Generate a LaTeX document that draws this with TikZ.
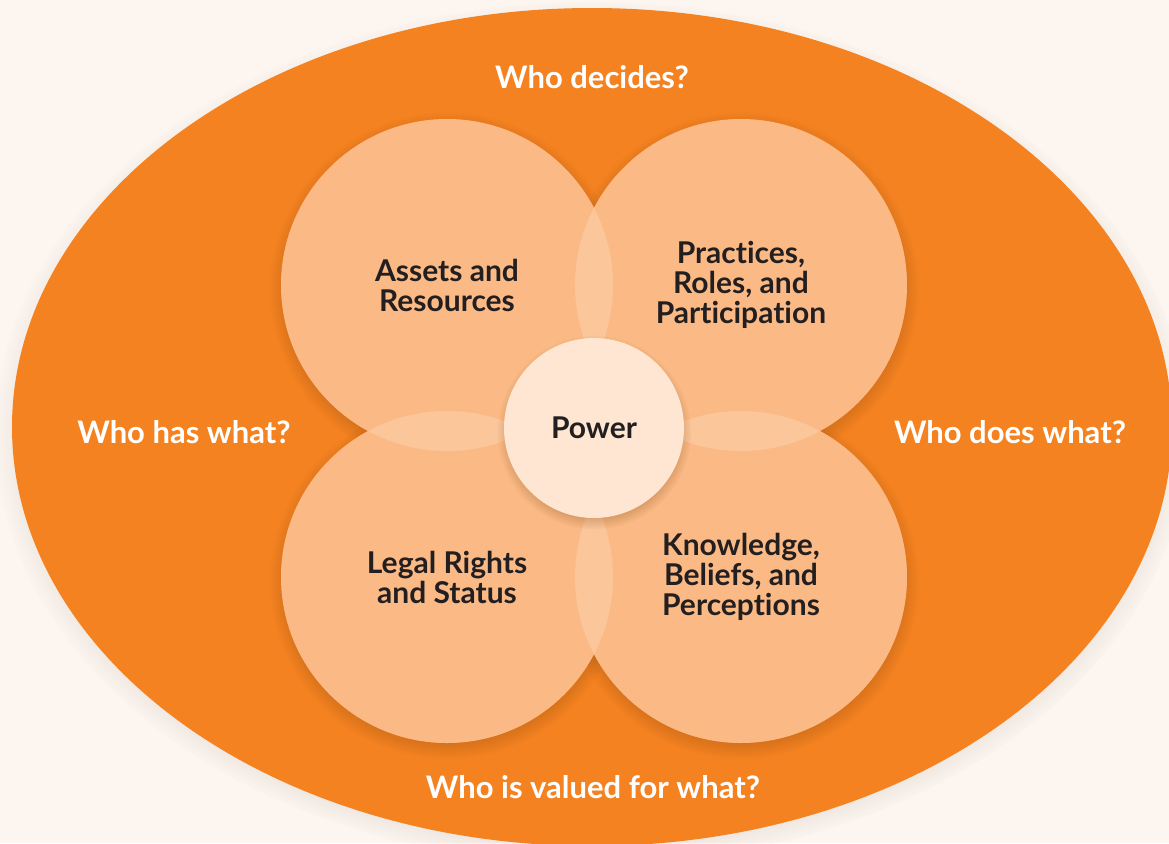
\documentclass[tikz,border=0pt]{standalone}
\usepackage{fontspec}
\setmainfont{Lato}[Ligatures=NoCommon]
\usepackage{tikz}
\usetikzlibrary{shapes.geometric,shadows,fadings}
\definecolor{paper}{HTML}{FDF6F0}
\definecolor{rim}{HTML}{F58220}
\definecolor{petalfill}{HTML}{FBBA85}
\definecolor{lensfill}{HTML}{FAC69A}
\definecolor{corefill}{HTML}{FEE6D2}
\definecolor{ink}{HTML}{231F20}

\begin{document}
\begin{tikzpicture}[x=0.5pt,y=-0.5pt,
  question/.style={text=white,font=\fontsize{15.5}{18}\selectfont\bfseries},
  petal/.style={circle,minimum size=166pt,inner sep=0pt,fill=petalfill,text=ink,align=center,
    font=\fontsize{15}{15}\selectfont\bfseries},
  petalshade/.style={fill=rim,circular drop shadow={shadow scale=1.07,shadow xshift=0pt,shadow yshift=-2pt,opacity=0.35,fill=black!55!rim}}]
\useasboundingbox[fill=paper] (0,0) rectangle (1169,843);
\node[ellipse,minimum width=580pt,minimum height=419pt,inner sep=0pt,fill=rim,
  circular drop shadow={shadow scale=1.03,shadow xshift=0pt,shadow yshift=-3pt,opacity=0.22,fill=black!70!brown}] (frame) at (592,427) {};
\foreach \p in {(447,285),(741,285),(447,577),(741,577)}
  \fill[petalshade] \p circle[radius=83pt];
\node[petal] (assets) at (447,285) {Assets and\\Resources};
\node[petal] (practices) at (741,285) {Practices,\\Roles, and\\Participation};
\node[petal] (legal) at (447,577) {Legal Rights\\and Status};
\node[petal] (knowledge) at (741,577) {Knowledge,\\Beliefs, and\\Perceptions};
\foreach \a/\b in {assets/practices,assets/legal,practices/knowledge,legal/knowledge}{
  \begin{scope}
    \clip (\a.center) circle[radius=83pt];
    \fill[lensfill] (\b.center) circle[radius=83pt];
  \end{scope}}
\node[circle,minimum size=90pt,inner sep=0pt,fill=corefill,text=ink,font=\fontsize{15}{15}\selectfont\bfseries,
  circular drop shadow={shadow scale=1.08,shadow xshift=0pt,shadow yshift=-2pt,opacity=0.3,fill=black!50!rim}] (power) at (594,428) {Power};
\node[question] (decides) at (592,77) {Who decides?};
\node[question] (has) at (184,432) {Who has what?};
\node[question] (does) at (1010,432) {Who does what?};
\node[question] (valued) at (593,787) {Who is valued for what?};
\end{tikzpicture}
\end{document}
